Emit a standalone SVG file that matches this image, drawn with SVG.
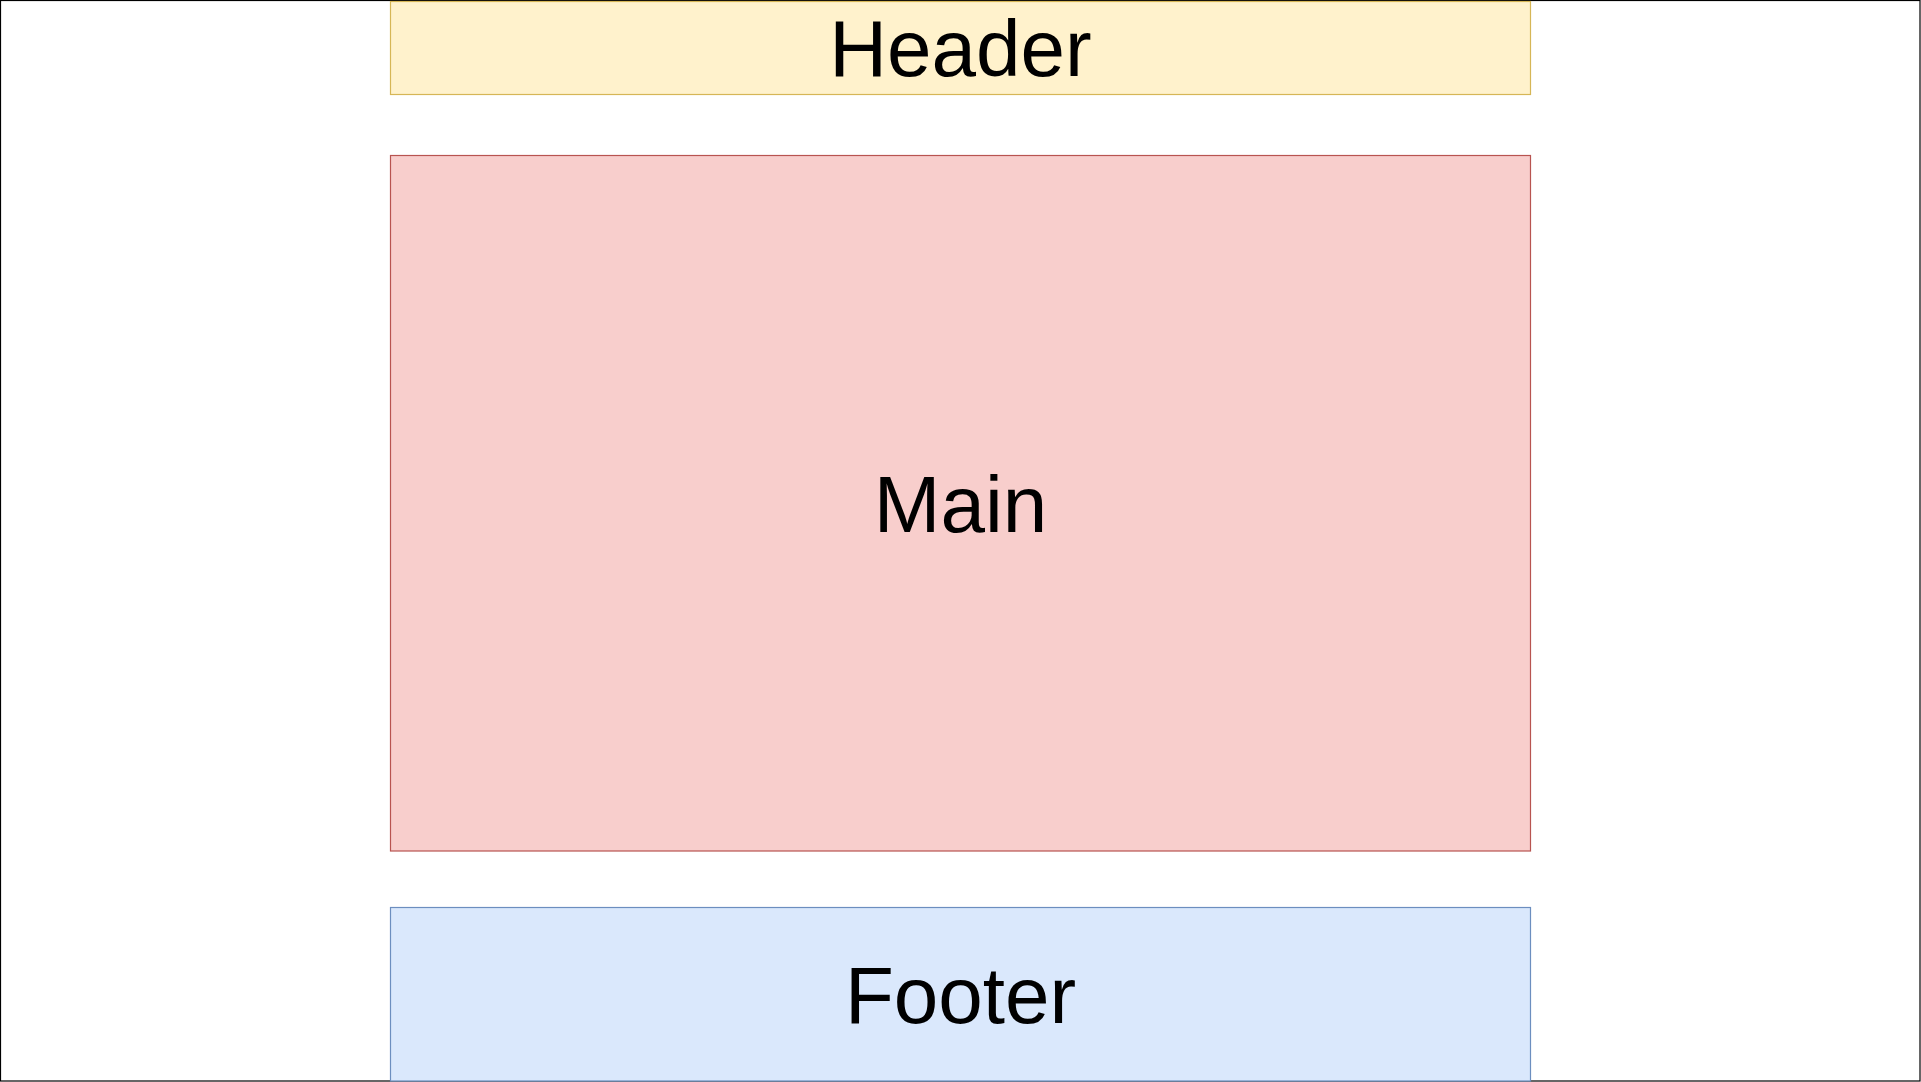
<svg xmlns="http://www.w3.org/2000/svg" width="1921" height="1082" viewBox="0 0 1921 1082">
<style>
.lbl{font-family:"Liberation Sans",Arial,sans-serif;font-size:80px;fill:#000;text-anchor:middle}
</style>
<rect x="0" y="0" width="1921" height="1082" fill="#fff"/>
<g id="frame"><rect x="0.5" y="0.5" width="1919.5" height="1080.5" fill="none" stroke="#000" stroke-width="1.2"/></g>
<g id="header"><rect x="390.5" y="1.5" width="1140" height="93" fill="#fff2cc" stroke="#d6b656" stroke-width="1.2"/><text class="lbl" x="960.5" y="76">Header</text></g>
<g id="main"><rect x="390.5" y="155.5" width="1140" height="695.5" fill="#f8cecc" stroke="#b85450" stroke-width="1.2"/><text class="lbl" x="960.5" y="532">Main</text></g>
<g id="footer"><rect x="390.5" y="907.5" width="1140" height="173.5" fill="#dae8fc" stroke="#6c8ebf" stroke-width="1.2"/><text class="lbl" x="960.5" y="1023">Footer</text></g>
<g id="connectors"></g>
</svg>
